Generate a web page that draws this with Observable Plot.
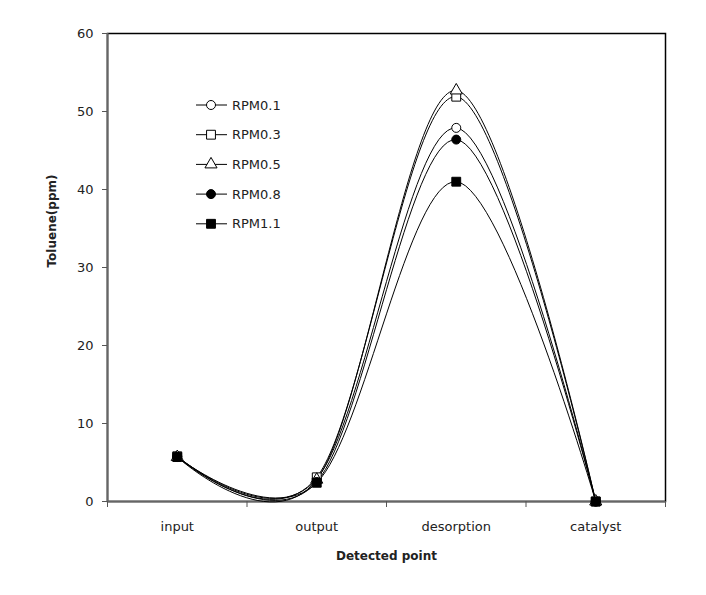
<!DOCTYPE html>
<html>
<head>
<meta charset="utf-8">
<script src="https://cdn.jsdelivr.net/npm/d3@7"></script>
<script src="https://cdn.jsdelivr.net/npm/@observablehq/plot@0.6"></script>
<style>
  html, body { margin: 0; padding: 0; background: #fff; }
  #chart svg { display: block; }
</style>
</head>
<body>
<div id="chart"></div>
<script>
const categories = ["input", "output", "desorption", "catalyst"];
const seriesNames = ["RPM0.1", "RPM0.3", "RPM0.5", "RPM0.8", "RPM1.1"];
const rpm01 = [5.8, 2.9, 47.9, 0];
const rpm03 = [5.8, 3.1, 51.9, 0];
const rpm05 = [5.7, 2.8, 52.7, 0];
const rpm08 = [5.7, 2.5, 46.4, 0];
const rpm11 = [5.7, 2.4, 41.0, 0];
const yTicks = [0, 10, 20, 30, 40, 50, 60];

const seriesValues = [rpm01, rpm03, rpm05, rpm08, rpm11];
const symbols = ["circle", "square", "triangle", "circle", "square"];
const fills = ["white", "white", "white", "black", "black"];

const data = [];
seriesValues.forEach((vals, si) => {
  vals.forEach((v, ci) => data.push({series: seriesNames[si], si, x: ci + 1, cat: categories[ci], y: v}));
});

const font = "'DejaVu Sans', Verdana, sans-serif";
const bounds = d3.range(categories.length + 1).map(i => i + 0.5);

const chart = Plot.plot({
  width: 706,
  height: 595,
  marginLeft: 107,
  marginRight: 41,
  marginTop: 33,
  marginBottom: 94,
  style: {fontFamily: font, fontSize: "13px", color: "#222", background: "white"},
  x: {type: "linear", domain: [0.5, categories.length + 0.5]},
  y: {domain: [0, 60]},
  marks: [
    Plot.frame({stroke: "black", strokeWidth: 1.5}),
    Plot.ruleX([0.5], {stroke: "#666", strokeWidth: 2}),
    Plot.axisY({ticks: yTicks, tickSize: 5, tickPadding: 9, fontSize: 13, label: null, stroke: "#555"}),
    Plot.ruleY([0], {stroke: "#666", strokeWidth: 2}),
    Plot.axisX({ticks: bounds, tickFormat: () => "", tickSize: 6, label: null, stroke: "#555"}),
    Plot.axisX({ticks: categories.map((c, i) => i + 1), tickFormat: i => categories[i - 1], tickSize: 0, tickPadding: 20, fontSize: 13, label: null}),
    Plot.line(data, {x: "x", y: "y", z: "series", curve: "cardinal", tension: 0, stroke: "black", strokeWidth: 1}),
    ...seriesNames.map((name, si) => Plot.dot(data.filter(d => d.si === si), {
      x: "x", y: "y", symbol: () => symbols[si], r: si === 1 || si === 4 ? 5 : 4.5,
      fill: fills[si], stroke: "black", strokeWidth: 1
    })),
    Plot.text(["Toluene(ppm)"], {frameAnchor: "left", dx: -55, rotate: -90, fontWeight: "bold", fontSize: 12, text: d => d}),
    Plot.text(["Detected point"], {frameAnchor: "bottom", dy: 58, fontWeight: "bold", fontSize: 12, text: d => d})
  ]
});

document.getElementById("chart").appendChild(chart);

// Legend inside plot area
const svg = d3.select(chart);
const lg = svg.append("g").attr("font-family", font).attr("font-size", 13).attr("fill", "#222").attr("text-anchor", "start");
seriesNames.forEach((name, i) => {
  const yy = 105 + i * 29.7;
  const g = lg.append("g").attr("transform", `translate(0,${yy})`);
  g.append("line").attr("x1", 196).attr("x2", 227).attr("y1", 0).attr("y2", 0).attr("stroke", "black");
  const sym = {circle: d3.symbolCircle, square: d3.symbolSquare, triangle: d3.symbolTriangle}[symbols[i]];
  const rr = symbols[i] === "square" ? 5 : 4.5;
  g.append("path").attr("d", d3.symbol(sym, Math.PI * rr * rr)()).attr("transform", "translate(211,0)")
    .attr("fill", fills[i]).attr("stroke", "black");
  g.append("text").attr("x", 232).attr("y", 0).attr("dy", "0.35em").text(name);
});
</script>
</body>
</html>
